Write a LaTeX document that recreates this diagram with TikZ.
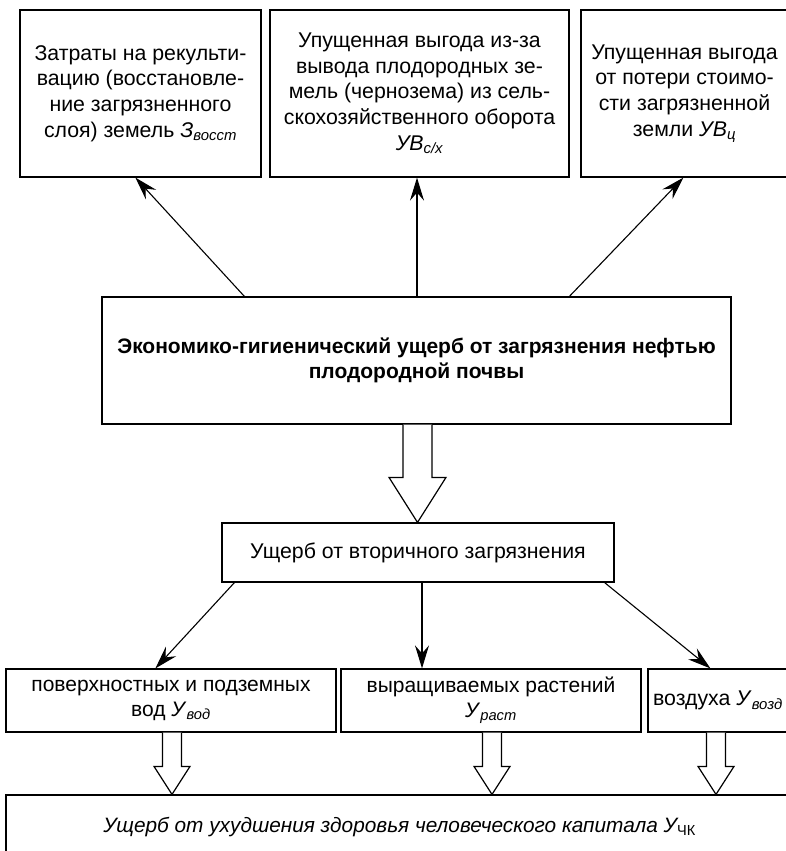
\documentclass[tikz,border=0pt]{standalone}
\usepackage{fontspec}
\setmainfont{Liberation Sans}
\usetikzlibrary{arrows.meta,calc}
\newcommand\hollowarr[5]{%
  \draw[hol] ($(#1)+(-#3,0)$) -- ($(#2)+(-#3,-#5)$) -- ($(#2)+(-#4,-#5)$) -- (#2)
    -- ($(#2)+(#4,-#5)$) -- ($(#2)+(#3,-#5)$) -- ($(#1)+(#3,0)$);}
\newcommand\sub[1]{\textsubscript{\itshape #1}}
\begin{document}
\begin{tikzpicture}[x=1pt,y=-1pt,
  box/.style={draw, line width=1.2pt, align=center, inner sep=0pt,
    font=\fontsize{21.3}{25.7}\selectfont},
  arr/.style={-{Stealth[length=23pt,width=14pt,inset=8pt]}, line width=1.1pt},
  hol/.style={line width=1.2pt, fill=white, line join=miter}]
\useasboundingbox (0,0) rectangle (786,851);
\fill[white] (0,0) rectangle (786,851);
% top row
\node[box, minimum width=241pt, minimum height=167pt] (b1) at (140.5,93.5)
  {Затраты на рекульти-\\вацию (восстановле-\\ние загрязненного\\слоя) земель \textit{З}\sub{восст}};
\node[box, minimum width=299pt, minimum height=167pt] (b2) at (419.5,93.5)
  {Упущенная выгода из-за\\вывода плодородных зе-\\мель (чернозема) из сель-\\скохозяйственного оборота\\\textit{УВ}\sub{с/х}};
\node[box, minimum width=207pt, minimum height=167pt] (b3) at (684.5,93.5)
  {Упущенная выгода\\от потери стоимо-\\сти загрязненной\\земли \textit{УВ}\sub{ц}};
% main
\node[box, minimum width=629pt, minimum height=127pt, font=\fontsize{21}{25}\selectfont\bfseries] (main) at (416.5,360.5)
  {Экономико-гигиенический ущерб от загрязнения нефтью\\плодородной почвы};
% secondary
\node[box, minimum width=392pt, minimum height=59pt] (sec) at (418,552.5)
  {Ущерб от вторичного загрязнения};
% bottom row
\node[box, minimum width=330pt, minimum height=63pt, font=\fontsize{21}{24.5}\selectfont] (ba) at (171,700.5)
  {поверхностных и подземных\\вод \textit{У}\sub{вод}};
\node[box, minimum width=300pt, minimum height=63pt, font=\fontsize{21}{24.5}\selectfont] (bb) at (491,700.5)
  {выращиваемых растений\\\textit{У}\sub{раст}};
\node[box, minimum width=140pt, minimum height=63pt] (bc) at (718,700.5)
  {воздуха \textit{У}\sub{возд}};
% final
\node[box, minimum width=787pt, minimum height=64pt, font=\fontsize{20.8}{25}\selectfont\itshape] (fin) at (399.5,827)
  {Ущерб от ухудшения здоровья человеческого капитала \textit{У}\textsubscript{\upshape ЧК}};
% arrows up
\coordinate (v1a) at ($(main.north)+(0.5,0)$);
\coordinate (v1b) at (v1a |- b2.south);
\draw[arr] ($(main.north west)+(143,0)$) -- ($(b1.south west)+(116,0)$);
\draw[arr] (v1a) -- (v1b);
\draw[arr] ($(main.north west)+(468,0)$) -- ($(b3.south west)+(103,0)$);
% hollow arrow main -> sec
\coordinate (h0a) at ($(main.south)+(1,0)$);
\coordinate (h0b) at (h0a |- sec.north);
\hollowarr{h0a}{h0b}{14.5}{28.5}{45}
% arrows down
\coordinate (v2a) at ($(sec.south)+(4,0)$);
\coordinate (v2b) at (v2a |- bb.north);
\draw[arr] ($(sec.south west)+(13,0)$) -- ($(ba.north west)+(150,0)$);
\draw[arr] (v2a) -- (v2b);
\draw[arr] ($(sec.south east)+(-10,0)$) -- ($(bc.north west)+(63,0)$);
% hollow arrows to final
\coordinate (h1a) at ($(ba.south)+(1,0)$);
\coordinate (h1b) at (h1a |- fin.north);
\hollowarr{h1a}{h1b}{9.5}{18}{28}
\coordinate (h2a) at ($(bb.south)+(1,0)$);
\coordinate (h2b) at (h2a |- fin.north);
\hollowarr{h2a}{h2b}{9.5}{18}{28}
\coordinate (h3a) at ($(bc.south)+(-2,0)$);
\coordinate (h3b) at (h3a |- fin.north);
\hollowarr{h3a}{h3b}{9.5}{18}{28}
\end{tikzpicture}
\end{document}
